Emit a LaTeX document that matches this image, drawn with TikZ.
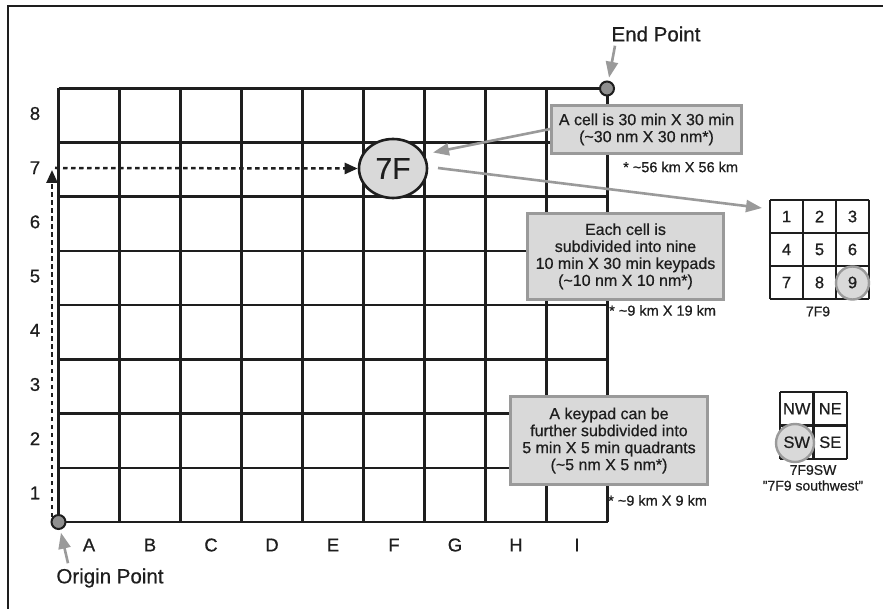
\documentclass[tikz,border=0pt]{standalone}
\usepackage{fontspec}
\setmainfont[FakeBold=0.6]{Liberation Sans}
\usetikzlibrary{arrows.meta,shapes.geometric}
\definecolor{boxfill}{HTML}{D9D9D9}
\definecolor{boxline}{HTML}{9A9A9A}
\definecolor{ink}{HTML}{1E1E1E}
\definecolor{dotfill}{HTML}{8F8F8F}
\begin{document}
\begin{tikzpicture}[x=1pt,y=-1pt,
  gridline/.style={draw=ink,line width=2.6pt},
  axislbl/.style={font=\fontsize{18.5}{20}\selectfont,text=ink,inner sep=0pt},
  callout/.style={fill=boxfill,draw=boxline,line width=2.6pt,align=center,inner sep=2pt,
     font=\fontsize{16}{17}\selectfont,text=ink},
  footnote/.style={anchor=west,inner sep=0pt,font=\fontsize{14.5}{16}\selectfont,text=ink},
  grayarrow/.style={draw=boxline,line width=2.6pt,-{Triangle[length=16pt,width=12pt]}},
  blackdash/.style={draw=ink,line width=2.5pt,dash pattern=on 4.5pt off 3.5pt,-{Triangle[length=13pt,width=11pt]}},
  endpt/.style={circle,fill=dotfill,draw=ink,line width=2pt,minimum size=14pt,inner sep=0pt},
  hl/.style={circle,fill=boxfill,draw=boxline,line width=2.4pt,inner sep=0pt},
  padnum/.style={inner sep=0pt,font=\fontsize{16.5}{18}\selectfont,text=ink},
  smalllbl/.style={inner sep=0pt,font=\fontsize{14}{16}\selectfont,text=ink},
  bigl/.style={inner sep=0pt,font=\fontsize{20.5}{22}\selectfont,text=ink}
]
\useasboundingbox (0,0) rectangle (883,609);
\fill[white] (0,0) rectangle (883,609);
% frame
\draw[draw=ink,line width=2.6pt] (8,609) -- (8,6) -- (883,6);
% main grid
\foreach \i in {0,...,9} \draw[gridline] ({58.5+61*\i},88.4) -- ({58.5+61*\i},522);
\foreach \j in {0,...,8} \draw[gridline] (58.5,{522-54.2*\j}) -- (607.5,{522-54.2*\j});
% axis labels
\foreach \j in {1,...,8} \node[axislbl] (row\j) at (35,{522-54.2*(\j-0.5)-2}) {\j};
\foreach \c [count=\i] in {A,B,C,D,E,F,G,H,I} \node[axislbl] (col\c) at ({58.5+61*(\i-0.5)},545) {\c};
% dashed route
\node[ellipse,fill=boxfill,draw=ink,line width=2.6pt,minimum width=68pt,minimum height=59pt,inner sep=0pt,
      font=\fontsize{30}{32}\selectfont,text=ink] (f7) at (393,168.5) {7F};
\coordinate (vstart) at (52,517);
\coordinate (vend) at (52,170);
\coordinate (hstart) at (55,168);
\draw[blackdash] (vstart) -- (vend);
\draw[blackdash] (hstart) -- (f7.west);
% origin and end
\node[endpt] (org) at (58.5,522) {};
\node[endpt] (endp) at (607,88.5) {};
\node[bigl] (orglbl) at (110,578) {Origin Point};
\node[bigl] (endlbl) at (656,34) {End Point};
\draw[grayarrow,shorten >=3pt] ([xshift=-42pt,yshift=5pt]orglbl.north) -- (org);
\draw[grayarrow,shorten >=3pt] ([xshift=-41pt,yshift=-4pt]endlbl.south) -- (endp);
% callouts
\node[callout,minimum width=190pt,minimum height=48pt] (box1) at (646.5,129.5)
  {A cell is 30 min X 30 min\\(\textasciitilde30 nm X 30 nm*)};
\node[footnote] (fn1) at (623,167) {* \textasciitilde56 km X 56 km};
\node[callout,minimum width=196pt,minimum height=86pt] (box2) at (625.5,256.3)
  {Each cell is\\subdivided into nine\\10 min X 30 min keypads\\(\textasciitilde10 nm X 10 nm*)};
\node[footnote] (fn2) at (609,310.5) {* \textasciitilde9 km X 19 km};
\node[callout,minimum width=197pt,minimum height=88pt] (box3) at (609,440.5)
  {A keypad can be\\further subdivided into\\5 min X 5 min quadrants\\(\textasciitilde5 nm X 5 nm*)};
\node[footnote] (fn3) at (608,500.5) {* \textasciitilde9 km X 9 km};
% keypad
\foreach \k in {0,...,3} {
  \draw[gridline] ({770+33*\k},200) -- ({770+33*\k},299);
  \draw[gridline] (770,{200+33*\k}) -- (869,{200+33*\k});
}
\node[hl,minimum size=33pt] (c9) at (852.5,283) {};
\foreach \n [count=\m from 0] in {1,...,9}
  \node[padnum] (k\n) at ({770+33*(mod(\m,3)+0.5)},{200+33*(int(\m/3)+0.5)}) {\n};
\node[smalllbl] (kplbl) at (818,311.5) {7F9};
% quadrant
\foreach \k in {0,1,2} {
  \draw[gridline] ({780+33.5*\k},392) -- ({780+33.5*\k},459);
  \draw[gridline] (780,{392+33.5*\k}) -- (847,{392+33.5*\k});
}
\node[hl,minimum size=38pt] (csw) at (795,443) {};
\node[padnum] (qnw) at (796.75,408.75) {NW};
\node[padnum] (qne) at (830.25,408.75) {NE};
\node[padnum] (qsw) at (796.75,442.25) {SW};
\node[padnum] (qse) at (830.25,442.25) {SE};
\node[smalllbl] (qlbl1) at (813,470) {7F9SW};
\node[smalllbl] (qlbl2) at (813,485.5) {\symbol{34}7F9 southwest\symbol{34}};
% callout arrows
\coordinate (a1tip) at (433,152.5);
\coordinate (a2start) at (438,168);
\coordinate (a2tip) at (762,208);
\draw[grayarrow] ([yshift=0.5pt]box1.west) -- (a1tip);
\draw[grayarrow] (a2start) -- (a2tip);
\end{tikzpicture}
\end{document}
